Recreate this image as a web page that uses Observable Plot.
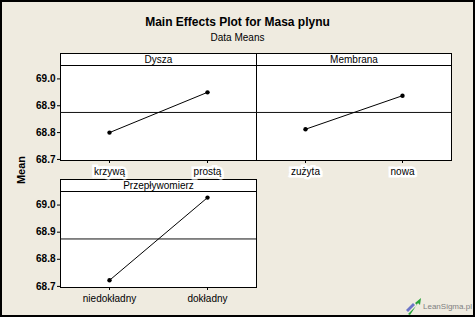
<!DOCTYPE html>
<html>
<head>
<meta charset="utf-8">
<script src="https://cdn.jsdelivr.net/npm/d3@7"></script>
<script src="https://cdn.jsdelivr.net/npm/@observablehq/plot@0.6"></script>
<style>
  html, body { margin: 0; padding: 0; background: #efebe0; }
  #root { position: relative; width: 475px; height: 317px; background: #efebe0; overflow: hidden;
          font-family: "Liberation Sans", Arial, sans-serif; color: #000; }
  .abs { position: absolute; }
  .panel { position: absolute; box-sizing: border-box; border: 1px solid #000; background: #fff; }
  .strip { position: absolute; box-sizing: border-box; border: 1px solid #000; background: #fff;
           font-size: 10px; line-height: 11px; text-align: center; }
</style>
</head>
<body>
<div id="root"></div>
<script>
// ---- data ----
const title = "Main Effects Plot for Masa plynu";
const subtitle = "Data Means";
const yLabel = "Mean";
const factors = ["Dysza", "Membrana", "Przepływomierz"];
const dyszaLevels = ["krzywą", "prostą"];
const dyszaMeans = [68.80, 68.95];
const membranaLevels = ["zużyta", "nowa"];
const membranaMeans = [68.8125, 68.9375];
const przeplywLevels = ["niedokładny", "dokładny"];
const przeplywMeans = [68.7225, 69.0275];
const grandMean = 68.875;
const yTicks = [68.7, 68.8, 68.9, 69.0];
const yDomain = [68.696, 69.05];
const logoText = "LeanSigma.pl";

const root = document.getElementById("root");
const W = 475, H = 317;

function addDiv(cls, css, text) {
  const d = document.createElement("div");
  d.className = cls;
  Object.assign(d.style, css);
  if (text != null) d.textContent = text;
  root.appendChild(d);
  return d;
}

// titles
addDiv("abs", {left: "0px", width: W + "px", top: "15px", textAlign: "center", fontSize: "12px",
  fontWeight: "bold", lineHeight: "14px"}, title);
addDiv("abs", {left: "0px", width: W + "px", top: "32px", textAlign: "center", fontSize: "10px",
  lineHeight: "12px"}, subtitle);
addDiv("abs", {left: "6px", top: "163px", width: "30px", height: "14px", textAlign: "center", fontSize: "11px",
  fontWeight: "bold", lineHeight: "14px", transform: "rotate(-90deg)", transformOrigin: "15px 7px"}, yLabel);

const boxes = [
  {l: 60, r: 256, t: 53, s: 65, b: 160, levels: dyszaLevels, means: dyszaMeans, yAxis: true, halo: true},
  {l: 256, r: 451, t: 53, s: 65, b: 160, levels: membranaLevels, means: membranaMeans, yAxis: false, halo: true},
  {l: 60, r: 256, t: 179, s: 191, b: 287, levels: przeplywLevels, means: przeplywMeans, yAxis: true, halo: false}
];

boxes.forEach((bx, i) => {
  addDiv("panel", {left: bx.l + "px", top: bx.t + "px", width: (bx.r - bx.l + 1) + "px", height: (bx.b - bx.t + 1) + "px"});
  addDiv("strip", {left: bx.l + "px", top: bx.t + "px", width: (bx.r - bx.l + 1) + "px", height: (bx.s - bx.t + 1) + "px"}, factors[i]);
});

boxes.forEach((bx) => {
  const rows = bx.levels.map((lv, j) => ({level: lv, mean: bx.means[j]}));
  const marks = [];
  if (bx.yAxis) {
    marks.push(Plot.axisY({ticks: yTicks, tickFormat: d => d.toFixed(1), tickSize: 3, tickPadding: 2,
      fontWeight: "bold", fontSize: 10}));
  }
  marks.push(Plot.axisX({tickSize: 3, tickPadding: 4, fontSize: 10}));
  marks.push(Plot.ruleY([grandMean], {stroke: "#111", strokeWidth: 1}));
  marks.push(Plot.line(rows, {x: "level", y: "mean", stroke: "#000", strokeWidth: 1}));
  marks.push(Plot.dot(rows, {x: "level", y: "mean", r: 2.2, fill: "#000", stroke: "none"}));
  const svg = Plot.plot({
    width: W, height: H,
    marginLeft: bx.l, marginRight: W - bx.r, marginTop: bx.s, marginBottom: H - bx.b,
    style: {background: "transparent", fontFamily: "'Liberation Sans', Arial, sans-serif", fontSize: "10px", color: "#000", overflow: "visible"},
    x: {type: "point", domain: bx.levels, padding: 0.5, label: null},
    y: {domain: yDomain, label: null, ...(bx.yAxis ? {} : {axis: null})},
    marks
  });
  svg.style.position = "absolute";
  svg.style.left = "0px";
  svg.style.top = "0px";
  if (bx.halo) {
    svg.querySelectorAll('[aria-label="x-axis tick label"] text').forEach(t => {
      t.setAttribute("stroke", "#fff");
      t.setAttribute("stroke-width", "5");
      t.setAttribute("stroke-linejoin", "miter");
      t.setAttribute("paint-order", "stroke");
    });
  }
  root.appendChild(svg);
});

// logo
const ns = "http://www.w3.org/2000/svg";
const logo = document.createElementNS(ns, "svg");
logo.setAttribute("width", "18"); logo.setAttribute("height", "20");
logo.style.position = "absolute"; logo.style.left = "404px"; logo.style.top = "296px";
logo.innerHTML = '<path d="M2 14 L9 7 L11 9 L4 16 Z" fill="#6b74c8"/>' +
  '<path d="M4 18 L13 9 L11 7 L17 2 L16 9 L14 7 L6 19 Z" fill="#2aa33a"/>';
root.appendChild(logo);
addDiv("abs", {left: "423px", top: "302px", fontSize: "8px", lineHeight: "10px", color: "#808080"}, logoText);

addDiv("", {position: "absolute", left: "0", top: "0", width: W + "px", height: H + "px", boxSizing: "border-box",
  border: "2px solid #000", pointerEvents: "none"});
</script>
</body>
</html>
